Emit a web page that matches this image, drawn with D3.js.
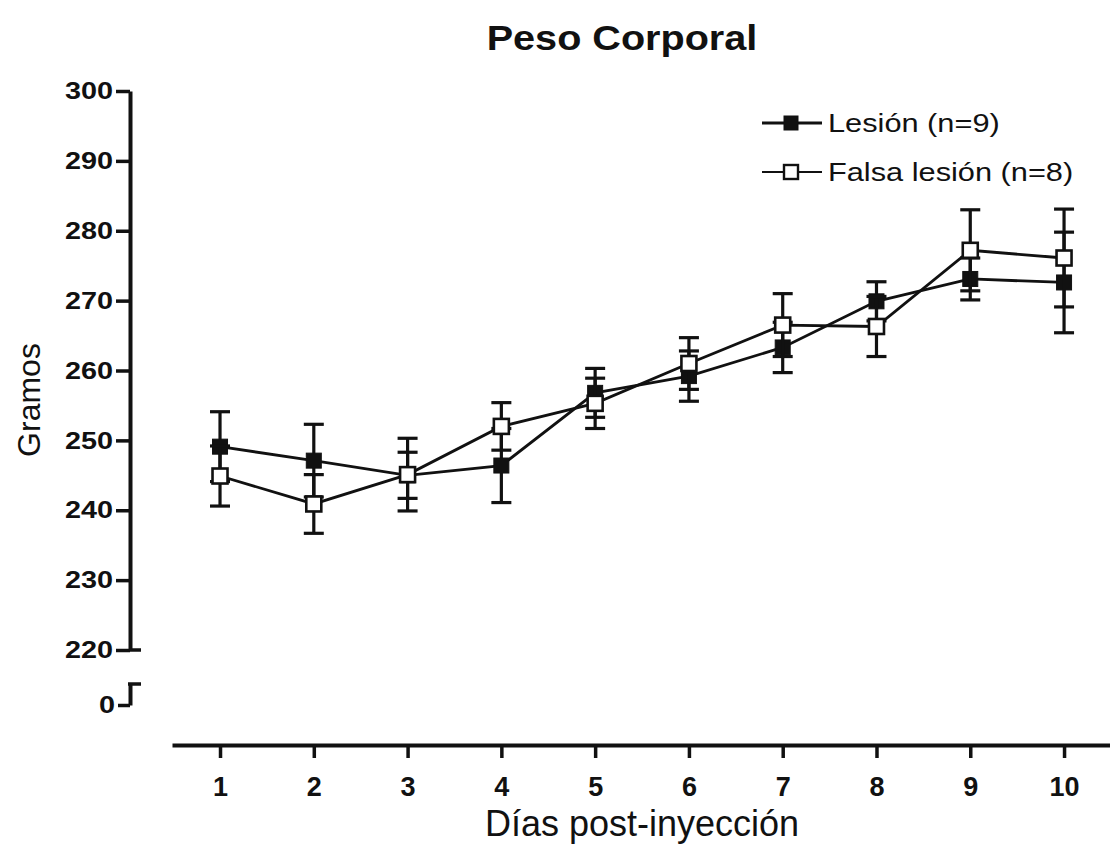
<!DOCTYPE html>
<html>
<head>
<meta charset="utf-8">
<script src="https://cdn.jsdelivr.net/npm/d3@7"></script>
<style>
body{margin:0;background:#fff;}
text{font-family:"Liberation Sans",Arial,sans-serif;fill:#111;}
.axis path,.axis line{stroke:#111;}
</style>
</head>
<body>
<div id="chart"></div>
<script>
var days = [1,2,3,4,5,6,7,8,9,10];
var lesion = [249.1,247.1,245.0,246.4,256.8,259.2,263.3,269.9,273.1,272.6];
var lesionSem = [5.0,5.2,3.3,5.3,3.5,3.6,3.6,2.8,3.0,7.2];
var falsa = [244.9,240.9,245.1,252.0,255.3,261.0,266.5,266.3,277.2,276.1];
var falsaSem = [4.3,4.2,5.2,3.4,3.6,3.7,4.5,4.3,5.8,7.0];
var yTicks = [220,230,240,250,260,270,280,290,300];
var series = [
    {name:"Lesión (n=9)", values:lesion, sem:lesionSem, filled:true},
    {name:"Falsa lesión (n=8)", values:falsa, sem:falsaSem, filled:false}
];

var W = 1110, H = 845;
var svg = d3.select('#chart').append('svg')
    .attr('width',W)
    .attr('height',H);

// the original figure's lettering is a bit wider than Liberation Sans
function stretch(sel, sx){
    sel.each(function(){
        var t = d3.select(this);
        var x0 = +t.attr("x") || 0;
        t.attr("x", x0/sx).attr("transform","scale("+sx+",1)");
    });
}

var x = d3.scaleLinear().domain([0.488,10.49]).range([172,1110]);
var y = d3.scaleLinear().domain([220,300]).range([650,91]);
var yLow = d3.scaleLinear().domain([0,3]).range([705,684]);
var axisX = 130;

// upper y axis
var yAxis = d3.axisLeft(y).tickValues(yTicks).tickSize(14).tickSizeOuter(0).tickPadding(3);
var gy = svg.append("g")
    .attr("class","axis")
    .attr("transform","translate("+axisX+",0)")
    .call(yAxis);
gy.select(".domain").attr("stroke-width",4);
gy.selectAll(".tick line").attr("stroke-width",3.5);
gy.selectAll("text").style("font-size","24px").style("font-weight","bold").call(stretch,1.2);
svg.append("line")
    .attr("x1",axisX).attr("x2",axisX+11)
    .attr("y1",y(220)).attr("y2",y(220))
    .attr("stroke","#111").attr("stroke-width",3.5);

// lower y axis segment (after break)
var yAxisLow = d3.axisLeft(yLow).tickValues([0]).tickFormat(d3.format("d"))
    .tickSize(12).tickSizeOuter(0).tickPadding(3);
var gyl = svg.append("g")
    .attr("class","axis")
    .attr("transform","translate("+axisX+",0)")
    .call(yAxisLow);
gyl.select(".domain").attr("stroke-width",4);
gyl.selectAll(".tick line").attr("stroke-width",3.5);
gyl.selectAll("text").style("font-size","24px").style("font-weight","bold").call(stretch,1.2);
svg.append("line")
    .attr("x1",axisX-2).attr("x2",axisX+11)
    .attr("y1",yLow(3)).attr("y2",yLow(3))
    .attr("stroke","#111").attr("stroke-width",3.5);

// x axis
var xAxis = d3.axisBottom(x).tickValues(days).tickSize(13).tickSizeOuter(0).tickPadding(19);
var gx = svg.append("g")
    .attr("class","axis")
    .attr("transform","translate(0,745)")
    .call(xAxis);
gx.select(".domain").attr("stroke-width",4);
gx.selectAll(".tick line").attr("stroke-width",3.5);
gx.selectAll("text").style("font-size","27px").style("font-weight","bold");

// titles
svg.append("text")
    .attr("x",622).attr("y",50)
    .attr("text-anchor","middle")
    .style("font-size","36px").style("font-weight","bold")
    .text("Peso Corporal")
    .call(stretch,1.1);

svg.append("text")
    .attr("x",642).attr("y",836)
    .attr("text-anchor","middle")
    .style("font-size","36px")
    .text("Días post-inyección");

svg.append("text")
    .attr("transform","translate(40,400) rotate(-90)")
    .attr("text-anchor","middle")
    .style("font-size","32px")
    .text("Gramos");

var line = d3.line()
    .x(function(d,i){ return x(days[i]); })
    .y(function(d){ return y(d); });

series.forEach(function(s){
    var g = svg.append("g");
    g.append("path")
        .datum(s.values)
        .attr("d",line)
        .attr("fill","none")
        .attr("stroke","#111")
        .attr("stroke-width",2.8);

    var eb = g.selectAll(".err")
        .data(s.values)
        .enter().append("g");
    eb.append("line")
        .attr("x1",function(d,i){ return x(days[i]); })
        .attr("x2",function(d,i){ return x(days[i]); })
        .attr("y1",function(d,i){ return y(d + s.sem[i]); })
        .attr("y2",function(d,i){ return y(d - s.sem[i]); })
        .attr("stroke","#111").attr("stroke-width",3.2);
    [1,-1].forEach(function(sign){
        eb.append("line")
            .attr("x1",function(d,i){ return x(days[i]) - 10; })
            .attr("x2",function(d,i){ return x(days[i]) + 10; })
            .attr("y1",function(d,i){ return y(d + sign*s.sem[i]); })
            .attr("y2",function(d,i){ return y(d + sign*s.sem[i]); })
            .attr("stroke","#111").attr("stroke-width",3.2);
    });

    var sz = 15;
    g.selectAll(".mk")
        .data(s.values)
        .enter().append("rect")
        .attr("x",function(d,i){ return x(days[i]) - sz/2; })
        .attr("y",function(d){ return y(d) - sz/2; })
        .attr("width",sz).attr("height",sz)
        .attr("fill",s.filled ? "#111" : "#fff")
        .attr("stroke","#111")
        .attr("stroke-width",s.filled ? 1 : 2.6);
});

// legend
var legend = svg.append("g").attr("transform","translate(762,123)");
series.forEach(function(s,i){
    var lg = legend.append("g").attr("transform","translate(0,"+(i*49)+")");
    lg.append("line")
        .attr("x1",0).attr("x2",60).attr("y1",0).attr("y2",0)
        .attr("stroke","#111").attr("stroke-width",s.filled ? 3.2 : 2.2);
    lg.append("rect")
        .attr("x",22).attr("y",-7).attr("width",14).attr("height",14)
        .attr("fill",s.filled ? "#111" : "#fff")
        .attr("stroke","#111").attr("stroke-width",s.filled ? 1 : 2.4);
    lg.append("text")
        .attr("x",66).attr("y",9)
        .style("font-size","25px")
        .text(s.name)
        .call(stretch,1.23);
});
</script>
</body>
</html>
